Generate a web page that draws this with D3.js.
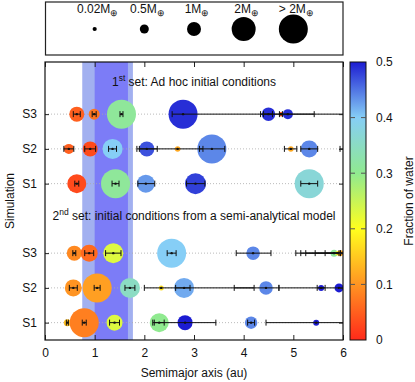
<!DOCTYPE html>
<html>
<head>
<meta charset="utf-8">
<script src="https://cdn.jsdelivr.net/npm/d3@7"></script>
<style>
  body { margin: 0; background: #fff; }
  svg { font-family: "Liberation Sans", Arial, sans-serif; }
  .axis text { font-size: 12px; fill: #111; }
</style>
</head>
<body>
<svg id="chart" width="415" height="382"></svg>
<script>
// rows (bottom to top): 2nd set S1..S3, then 1st set S1..S3
var rowNames = ["S1", "S2", "S3", "S1", "S2", "S3"];
var rowPos = [1, 2, 3, 5, 6, 7];

// planets: [semimajor axis, mass (M_earth), water fraction, low, high]
var set2S1 = [
  [0.45, 0.3, 0.14, 0.43, 0.47],
  [0.79, 2.5, 0.08, 0.75, 0.83],
  [1.40, 1.2, 0.23, 1.30, 1.50],
  [2.30, 1.5, 0.30, 2.17, 2.40],
  [2.82, 1.1, 0.50, 2.20, 3.44],
  [4.15, 0.85, 0.44, 4.08, 4.22],
  [5.46, 0.2, 0.50, 4.45, 6.30]
];
var set2S2 = [
  [0.57, 1.3, 0.10, 0.49, 0.65],
  [1.05, 2.5, 0.11, 0.99, 1.11],
  [1.71, 1.6, 0.35, 1.61, 1.81],
  [2.34, 0.1, 0.17, 2.00, 4.21],
  [2.80, 1.6, 0.42, 2.63, 2.92],
  [4.45, 0.95, 0.44, 3.81, 4.71],
  [5.56, 0.2, 0.50, 5.48, 5.64],
  [5.92, 0.5, 0.50, 4.71, 6.50]
];
var set2S3 = [
  [0.59, 1.1, 0.09, 0.56, 0.62],
  [0.89, 1.3, 0.06, 0.80, 0.98],
  [1.375, 1.6, 0.23, 1.22, 1.53],
  [2.55, 2.5, 0.40, 2.46, 2.64],
  [4.19, 0.95, 0.44, 3.85, 4.55],
  [5.82, 0.3, 0.31, 5.25, 5.92],
  [5.89, 0.05, 0.20, 5.44, 5.95],
  [5.95, 0.2, 0.12, 5.05, 6.50],
  [6.50, 0.5, 0.45, 5.64, 7.20],
  [6.80, 0.5, 0.45, 5.15, 8.00]
];
var set1S1 = [
  [0.64, 1.5, 0.03, 0.60, 0.68],
  [1.42, 2.5, 0.31, 1.35, 1.49],
  [2.03, 1.4, 0.43, 1.87, 2.21],
  [3.03, 1.7, 0.48, 2.85, 3.22],
  [5.32, 2.5, 0.37, 5.15, 5.49]
];
var set1S2 = [
  [0.48, 0.6, 0.05, 0.38, 0.58],
  [0.91, 1.1, 0.03, 0.80, 1.02],
  [1.36, 1.6, 0.40, 1.28, 1.44],
  [2.05, 1.1, 0.47, 1.85, 2.26],
  [2.67, 0.15, 0.12, 1.90, 3.18],
  [3.36, 2.5, 0.44, 3.11, 3.62],
  [4.95, 0.15, 0.12, 4.82, 5.07],
  [5.32, 1.3, 0.44, 5.15, 5.49],
  [6.40, 0.5, 0.45, 5.94, 6.90]
];
var set1S3 = [
  [0.64, 1.1, 0.05, 0.57, 0.71],
  [0.99, 0.7, 0.07, 0.95, 1.03],
  [1.54, 2.5, 0.31, 1.51, 1.57],
  [2.78, 2.5, 0.49, 2.56, 6.30],
  [4.50, 0.95, 0.49, 4.40, 4.58],
  [4.75, 0.05, 0.03, 4.72, 4.78],
  [4.89, 0.6, 0.49, 4.34, 5.42]
];
var rows = [set2S1, set2S2, set2S3, set1S1, set1S2, set1S3];

// habitable zone bands (au)
var hzOuter = [0.75, 1.77];
var hzInner = [1.0, 1.67];

// legend masses
var legendMass = [0.02, 0.5, 1, 2, 2.5];
var legendLabel = ["0.02M", "0.5M", "1M", "2M", "> 2M"];

var waterStops = [0, 0.1, 0.2, 0.3, 0.4, 0.5];
var waterColors = ["#ff2a1a", "#ff9422", "#ffff1e", "#90ea90", "#86cef6", "#1c1cd2"];
var waterTicks = [0, 0.1, 0.2, 0.3, 0.4, 0.5];
var xTicks = [0, 1, 2, 3, 4, 5, 6];

var setTitles = [
  { pos: 7.8, sup: "st", pre: "1", post: " set: Ad hoc initial conditions" },
  { pos: 3.95, sup: "nd", pre: "2", post: " set: initial conditions from a semi-analytical model" }
];

var svg = d3.select("#chart");
var pL = 45, pR = 343, pT = 62, pB = 340;

var x = d3.scaleLinear().domain([0, 6]).range([pL, pR]);
var y = d3.scaleLinear().domain([0.5, 8.5]).range([pB, pT]);
var r = d3.scaleLinear().domain([0, 2.5]).range([2, 14.5]).clamp(true);
var color = d3.scaleLinear().domain(waterStops).range(waterColors);

var defs = svg.append("defs");
defs.append("clipPath").attr("id", "plotclip")
  .append("rect").attr("x", pL).attr("y", pT)
  .attr("width", pR - pL).attr("height", pB - pT);

var plot = svg.append("g").attr("clip-path", "url(#plotclip)");

// bands
plot.append("rect")
  .attr("x", x(hzOuter[0])).attr("y", pT)
  .attr("width", x(hzOuter[1]) - x(hzOuter[0])).attr("height", pB - pT)
  .attr("fill", "#a2b0f0");
plot.append("rect")
  .attr("x", x(hzInner[0])).attr("y", pT)
  .attr("width", x(hzInner[1]) - x(hzInner[0])).attr("height", pB - pT)
  .attr("fill", "#7c7cf7");

// dotted row lines
plot.selectAll(".grid").data(rowPos).enter().append("line")
  .attr("x1", pL).attr("x2", pR)
  .attr("y1", function(d) { return y(d); })
  .attr("y2", function(d) { return y(d); })
  .attr("stroke", "#aaa").attr("stroke-width", 0.8)
  .attr("stroke-dasharray", "1,2");

var planets = [];
rows.forEach(function(list, i) {
  list.forEach(function(p) {
    planets.push({ row: rowPos[i], a: p[0], m: p[1], w: p[2], lo: p[3], hi: p[4] });
  });
});

plot.selectAll(".planet").data(planets).enter().append("circle")
  .attr("cx", function(d) { return x(d.a); })
  .attr("cy", function(d) { return y(d.row); })
  .attr("r", function(d) { return r(d.m); })
  .attr("fill", function(d) { return color(d.w); });

// error bars
var bars = plot.selectAll(".bar").data(planets).enter().append("g")
  .attr("stroke", "#111").attr("stroke-width", 1);
bars.append("line")
  .attr("x1", function(d) { return x(d.lo); })
  .attr("x2", function(d) { return x(d.hi); })
  .attr("y1", function(d) { return y(d.row); })
  .attr("y2", function(d) { return y(d.row); });
bars.append("line")
  .attr("x1", function(d) { return x(d.lo); })
  .attr("x2", function(d) { return x(d.lo); })
  .attr("y1", function(d) { return y(d.row) - 3; })
  .attr("y2", function(d) { return y(d.row) + 3; });
bars.append("line")
  .attr("x1", function(d) { return x(d.hi); })
  .attr("x2", function(d) { return x(d.hi); })
  .attr("y1", function(d) { return y(d.row) - 3; })
  .attr("y2", function(d) { return y(d.row) + 3; });
plot.selectAll(".dot").data(planets).enter().append("circle")
  .attr("cx", function(d) { return x(d.a); })
  .attr("cy", function(d) { return y(d.row); })
  .attr("r", 1.2).attr("fill", "#111");

// set titles
setTitles.forEach(function(t) {
  var txt = svg.append("text")
    .attr("x", (pL + pR) / 2).attr("y", y(t.pos))
    .attr("text-anchor", "middle")
    .attr("font-size", "12px").attr("fill", "#111");
  txt.append("tspan").text(t.pre);
  txt.append("tspan").attr("dy", -5).attr("font-size", "8.5px").text(t.sup);
  txt.append("tspan").attr("dy", 5).text(t.post);
});

// axes
svg.append("g").attr("class", "axis")
  .attr("transform", "translate(0," + pB + ")")
  .call(d3.axisBottom(x).tickValues(xTicks).tickSizeInner(-5).tickSizeOuter(0).tickPadding(8)
    .tickFormat(d3.format("d")));
svg.append("g").attr("class", "axis")
  .attr("transform", "translate(0," + pT + ")")
  .call(d3.axisTop(x).tickValues(xTicks).tickSizeInner(-5).tickSizeOuter(0).tickFormat(""));
svg.append("g").attr("class", "axis")
  .attr("transform", "translate(" + pL + ",0)")
  .call(d3.axisLeft(y).tickValues(rowPos).tickSizeInner(-4).tickSizeOuter(0).tickPadding(8)
    .tickFormat(function(d, i) { return rowNames[i]; }));
svg.append("g").attr("class", "axis")
  .attr("transform", "translate(" + pR + ",0)")
  .call(d3.axisRight(y).tickValues(rowPos).tickSizeInner(-4).tickSizeOuter(0).tickFormat(""));
svg.selectAll(".axis .domain").remove();
svg.selectAll(".axis .tick line").attr("stroke", "#222");

svg.append("rect")
  .attr("x", pL).attr("y", pT)
  .attr("width", pR - pL).attr("height", pB - pT)
  .attr("fill", "none").attr("stroke", "#111").attr("stroke-width", 1.2);

svg.append("text")
  .attr("x", (pL + pR) / 2).attr("y", 377)
  .attr("text-anchor", "middle").attr("font-size", "12px").attr("fill", "#111")
  .text("Semimajor axis (au)");
svg.append("text")
  .attr("transform", "translate(10," + (pT + pB) / 2 + ") rotate(-90)")
  .attr("text-anchor", "middle").attr("dy", "0.35em")
  .attr("font-size", "12px").attr("fill", "#111")
  .text("Simulation");

// colour bar
var cbX = 350, cbW = 16;
var cy = d3.scaleLinear().domain([0, 0.5]).range([pB, pT]);
var grad = defs.append("linearGradient")
  .attr("id", "wgrad").attr("x1", 0).attr("y1", 1).attr("x2", 0).attr("y2", 0);
grad.selectAll("stop").data(waterStops).enter().append("stop")
  .attr("offset", function(d) { return d / 0.5; })
  .attr("stop-color", function(d) { return color(d); });
svg.append("rect")
  .attr("x", cbX).attr("y", pT).attr("width", cbW).attr("height", pB - pT)
  .attr("fill", "url(#wgrad)").attr("stroke", "#111").attr("stroke-width", 1);
var inner = waterTicks.slice(1, -1);
svg.selectAll(".cbtl").data(inner).enter().append("line")
  .attr("x1", cbX).attr("x2", cbX + 5)
  .attr("y1", function(d) { return cy(d); }).attr("y2", function(d) { return cy(d); })
  .attr("stroke", "#555");
svg.selectAll(".cbtr").data(inner).enter().append("line")
  .attr("x1", cbX + cbW - 5).attr("x2", cbX + cbW)
  .attr("y1", function(d) { return cy(d); }).attr("y2", function(d) { return cy(d); })
  .attr("stroke", "#555");
svg.append("g").attr("class", "axis")
  .attr("transform", "translate(" + (cbX + cbW) + ",0)")
  .call(d3.axisRight(cy).tickValues(waterTicks).tickSize(0).tickPadding(10)
    .tickFormat(function(d) { return +d.toFixed(1); }))
  .select(".domain").remove();
svg.append("text")
  .attr("transform", "translate(409," + (pT + pB) / 2 + ") rotate(-90)")
  .attr("text-anchor", "middle").attr("dy", "0.35em")
  .attr("font-size", "12px").attr("fill", "#111")
  .text("Fraction of water");

// legend
svg.append("rect")
  .attr("x", pL + 0.5).attr("y", 2).attr("width", pR - pL - 0.5).attr("height", 53)
  .attr("fill", "#fff").attr("stroke", "#222").attr("stroke-width", 1.2);
var lg = svg.selectAll(".lg").data(legendMass).enter().append("g")
  .attr("transform", function(d, i) { return "translate(" + x(i + 1) + ",0)"; });
lg.append("circle").attr("cy", 29)
  .attr("r", function(d) { return r(d); }).attr("fill", "#000");
var lt = lg.append("text").attr("x", 3).attr("y", 13)
  .attr("text-anchor", "middle").attr("font-size", "12px").attr("fill", "#111");
lt.append("tspan").text(function(d, i) { return legendLabel[i]; });
lt.append("tspan").attr("dy", 3).attr("font-size", "9px").text("\u2295");
</script>
</body>
</html>
